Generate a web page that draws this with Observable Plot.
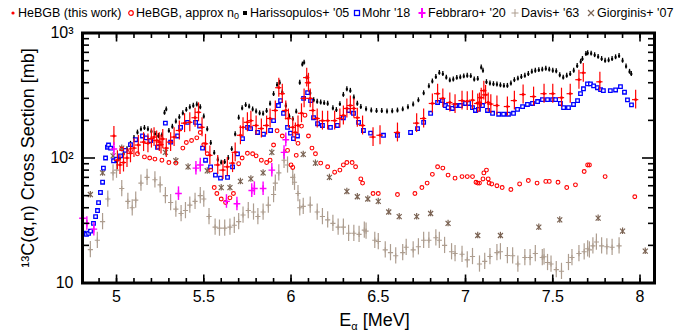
<!DOCTYPE html>
<html><head><meta charset="utf-8">
<script src="https://cdn.jsdelivr.net/npm/d3@7"></script>
<script src="https://cdn.jsdelivr.net/npm/@observablehq/plot@0.6"></script>
<style>
body{margin:0;background:#fff;font-family:"Liberation Sans",Arial,sans-serif;}
#legend{height:24px;position:relative;font-size:12.5px;color:#000;}
.sym{position:absolute;top:7px;line-height:0;}
.sym svg{display:block;}
.lab{position:absolute;top:5px;line-height:16px;white-space:nowrap;}
#chart svg{display:block;}
</style></head><body>
<div id="legend"></div>
<div id="chart"></div>
<script>
// ---------- data ----------
// HeBGB (this work)
const hebgbE = [4.985,5.005,5.02,5.04,5.06,5.08,5.10,5.125,5.155,5.18,5.20,5.215,5.23,5.245,5.255,5.265,5.285,5.31,5.33,5.36,5.39,5.42,5.45,5.47,5.49,5.51,5.535,5.58,5.61,5.635,5.665,5.68,5.71,5.725,5.75,5.77,5.80,5.83,5.86,5.88,5.91,5.93,5.95,5.97,5.985,6.01,6.025,6.04,6.06,6.075,6.09,6.10,6.11,6.125,6.15,6.18,6.21,6.25,6.28,6.30,6.32,6.34,6.36,6.38,6.41,6.47,6.51,6.61,6.72,6.76,6.81,6.84,6.87,6.91,6.94,6.98,7.01,7.04,7.07,7.08,7.09,7.105,7.115,7.13,7.145,7.18,7.24,7.28,7.33,7.39,7.45,7.50,7.55,7.60,7.65,7.675,7.77,7.975];
const hebgbV = [150,96,88,92,100,109,120,127,134,131,143,147,138,134,128,142,120,134,147,166,190,193,210,232,176,130,105,88,80,85,91,111,152,176,193,199,182,172,182,207,240,365,327,240,207,176,160,182,228,300,440,400,300,240,207,199,199,199,207,219,249,263,249,210,182,147,152,160,190,207,273,327,300,278,270,288,285,290,273,278,304,346,320,278,270,263,258,288,322,310,327,327,304,327,423,480,407,293];

// HeBGB, approx n0
const n0E = [5.03,5.08,5.12,5.16,5.19,5.22,5.26,5.30,5.34,5.38,5.40,5.43,5.46,5.48,5.50,5.52,5.54,5.56,5.575,5.60,5.625,5.65,5.67,5.70,5.72,5.75,5.78,5.80,5.83,5.86,5.88,5.90,5.92,5.95,5.98,6.00,6.01,6.03,6.04,6.06,6.08,6.10,6.12,6.14,6.17,6.21,6.25,6.28,6.30,6.32,6.35,6.37,6.40,6.41,6.47,6.50,6.61,6.71,6.75,6.78,6.81,6.84,6.87,6.90,6.94,6.98,7.01,7.04,7.06,7.07,7.08,7.10,7.105,7.12,7.13,7.135,7.15,7.18,7.21,7.26,7.31,7.36,7.41,7.46,7.48,7.53,7.58,7.63,7.68,7.70,7.71,7.80,7.97];
const n0V = [118,115,108,102,100,98,96,92,91,120,133,138,145,160,128,108,80,58,52,47,44,48,52,90,100,109,108,104,96,92,96,127,165,150,115,88,84,105,131,180,220,150,120,108,91,85,77,80,88,92,92,85,68,63,52,52,51,52,58,63,74,85,83,73,69,71,71,71,64,63,63,68,76,80,68,63,62,60,58,56,62,66,63,65,65,64,58,61,78,88,88,71,49];

// Harissopulos+ '05
const hariE = [5.00,5.02,5.04,5.06,5.08,5.10,5.12,5.14,5.16,5.18,5.20,5.22,5.24,5.26,5.275,5.285,5.30,5.32,5.34,5.36,5.38,5.40,5.42,5.44,5.46,5.48,5.50,5.52,5.54,5.56,5.58,5.60,5.62,5.64,5.66,5.68,5.70,5.72,5.74,5.76,5.78,5.80,5.82,5.84,5.86,5.88,5.90,5.92,5.935,5.95,5.97,5.99,6.01,6.03,6.05,6.065,6.075,6.09,6.11,6.13,6.15,6.17,6.19,6.21,6.24,6.26,6.28,6.30,6.32,6.34,6.36,6.38,6.40,6.43,6.46,6.49,6.52,6.55,6.58,6.61,6.64,6.67,6.70,6.73,6.76,6.79,6.81,6.83,6.85,6.87,6.89,6.91,6.93,6.95,6.97,6.99,7.01,7.03,7.05,7.07,7.09,7.10,7.12,7.14,7.16,7.18,7.20,7.22,7.24,7.26,7.28,7.30,7.32,7.34,7.36,7.38,7.40,7.42,7.44,7.46,7.48,7.50,7.52,7.54,7.56,7.58,7.60,7.62,7.64,7.66,7.67,7.69,7.70,7.72,7.74,7.76,7.78,7.80,7.82,7.84,7.86,7.88,7.90,7.92,7.94,7.95];
const hariV = [95,100,108,118,130,145,160,170,174,170,163,156,150,152,230,245,165,178,196,212,228,243,255,262,268,255,215,170,132,110,97,92,93,100,118,155,210,250,265,258,245,236,228,226,238,272,325,385,400,335,262,215,205,235,400,560,580,440,330,290,282,278,275,272,250,242,270,320,355,345,305,272,256,246,240,238,238,236,237,240,245,255,268,290,330,375,410,445,480,470,440,418,425,438,442,450,455,452,425,430,530,500,405,395,390,388,382,378,378,395,420,432,445,455,470,490,500,505,510,518,510,500,495,460,440,455,470,500,545,590,620,680,690,685,665,645,620,600,605,620,640,656,600,540,490,470];

// Mohr '18
const mohrE = [4.811,4.828,4.84,4.851,4.868,4.88,4.891,4.897,4.908,4.92,4.925,4.937,4.948,4.954,4.966,4.983,5.00,5.023,5.05,5.08,5.11,5.149,5.17,5.195,5.235,5.28,5.31,5.35,5.367,5.407,5.453,5.476,5.493,5.51,5.539,5.567,5.596,5.636,5.665,5.693,5.722,5.751,5.768,5.808,5.842,5.883,5.90,5.928,5.94,5.957,5.98,5.997,6.014,6.037,6.072,6.095,6.112,6.129,6.152,6.18,6.226,6.266,6.30,6.33,6.358,6.387,6.415,6.456,6.53,6.61,6.685,6.725,6.76,6.80,6.84,6.868,6.885,6.90,6.925,6.943,6.971,7.00,7.017,7.04,7.057,7.074,7.097,7.126,7.155,7.19,7.218,7.246,7.275,7.298,7.327,7.355,7.384,7.413,7.441,7.47,7.499,7.516,7.544,7.562,7.59,7.619,7.642,7.659,7.676,7.699,7.716,7.734,7.756,7.774,7.79,7.83,7.86,7.888,7.911,7.928,7.951];
const mohrV = [25,24.5,25,26,30,34,38,44,53,64,83,100,122,127,120,95,98,104,115,128,140,150,145,138,122,190,134,150,176,193,193,180,120,96,85,73,69,70,85,108,143,176,172,160,155,166,199,263,288,228,176,158,143,150,300,333,288,210,188,182,176,182,210,240,228,193,166,158,152,152,160,172,193,228,278,288,263,253,249,263,263,273,273,253,240,245,263,240,228,224,224,224,228,245,258,268,273,283,293,293,293,293,273,253,253,268,288,327,358,392,392,378,365,352,346,346,350,372,336,292,266];

// Febbraro+ '20
const febE = [4.805,4.83,4.87,4.985,5.355,5.455,5.48,5.63,5.69,5.775,5.79,5.84,5.89,5.96,5.97];
const febV = [33,30,27,118,52,83,88,45,43,55,57,57,80,111,140];

// Davis+ '63
const davisE = [4.85,4.89,4.92,4.95,4.98,5.00,5.03,5.065,5.09,5.11,5.14,5.175,5.22,5.25,5.28,5.31,5.34,5.37,5.395,5.42,5.45,5.48,5.50,5.53,5.565,5.59,5.62,5.65,5.675,5.70,5.725,5.755,5.785,5.81,5.84,5.87,5.90,5.91,5.93,5.96,5.98,6.01,6.02,6.04,6.05,6.07,6.11,6.15,6.18,6.21,6.24,6.27,6.30,6.33,6.36,6.39,6.42,6.43,6.48,6.50,6.54,6.57,6.60,6.64,6.66,6.70,6.73,6.76,6.79,6.83,6.85,6.88,6.92,6.94,6.98,7.01,7.04,7.08,7.11,7.14,7.18,7.20,7.24,7.27,7.30,7.34,7.37,7.40,7.44,7.45,7.47,7.49,7.52,7.55,7.59,7.61,7.65,7.68,7.70,7.71,7.73,7.75,7.78,7.81,7.84,7.88];
const davisV = [18.5,22,31,47,76,80,57,45,40,46,63,70,67,61,50,44,39,36,38,42,45,50,47,34,28,27.5,27.5,28,29,31,35,38,37,34,37,42,51,63,76,96,88,70,64,52,40,41,42,37,34,32,30,28,28,25,25,24.5,26.5,26,22,21.5,18.4,17.5,16.5,17.5,19.3,18.4,19.5,22,22,23,22,20,17.8,17.2,17,15.3,16.3,14.2,14.9,16.3,17.5,17.8,16.6,16.5,14.2,16,16,17.2,16,16.2,14.6,14.2,12.8,12.4,14.6,16,17.2,17.8,18.8,18.4,19.8,21.3,19.8,19.5,19.3,19.8];

// Giorginis+ '07
const giorE = [4.85,4.92,4.98,5.03,5.28,5.34,5.41,5.52,5.60,5.65,5.71,5.77,5.84,5.89,6.07,6.14,6.22,6.32,6.38,6.44,6.50,6.56,6.62,6.72,6.80,6.90,7.07,7.20,7.42,7.54,7.76,7.90,8.03];
const giorV = [51,76,104,120,111,95,85,79,58,58,65,68,76,111,107,91,70,54,49,47,45,37,34,34,36,30,24,24,28,32,33,26,18];

// axis ticks
const xMajor = [5,5.5,6,6.5,7,7.5,8];
const xMinor = d3.range(49,81).map(i => i/10);
const yMajor = [10,100,1000];
const yMinor = [20,30,40,50,60,70,80,90,200,300,400,500,600,700,800,900];
const yTickText = {10:"10", 100:"10²", 1000:"10³"};

// legend entries
const legendNames = ["HeBGB (this work)","HeBGB, approx n<span style=\"font-size:9px;vertical-align:-2px\">0</span>","Harissopulos+ '05","Mohr '18","Febbraro+ '20","Davis+ '63","Giorginis+ '07"];
const legendSymX = [9,127,241,353,418,511,587];
const legendTextX = [18,136,250,362,428,521,597];

// ---------- colours ----------
const RED="#ff0000", BLUE="#0000ff", MAG="#ff00ff", TAN="#ad9d8f", BROWN="#7a6252";

const zipT = (E,V) => E.map((e,i)=>({E:e, v:V[i]}));
const hebgb = zipT(hebgbE,hebgbV), n0 = zipT(n0E,n0V), hari = zipT(hariE,hariV),
      mohr = zipT(mohrE,mohrV), feb = zipT(febE,febV), davis = zipT(davisE,davisV), gior = zipT(giorE,giorV);

// legend
const legendSyms = [
 '<svg width="8" height="12"><circle cx="4" cy="6" r="1.6" fill="'+RED+'"/></svg>',
 '<svg width="8" height="12"><circle cx="4" cy="6" r="2.3" fill="none" stroke="'+RED+'" stroke-width="1.2"/></svg>',
 '<svg width="8" height="12"><rect x="2" y="4" width="4" height="4" fill="#000"/></svg>',
 '<svg width="8" height="12"><rect x="1.5" y="3.5" width="5" height="5" fill="none" stroke="'+BLUE+'" stroke-width="1.3"/></svg>',
 '<svg width="8" height="12"><path d="M4,1V11M0.5,6H7.5" stroke="'+MAG+'" stroke-width="2"/></svg>',
 '<svg width="8" height="12"><path d="M4,2V10M0.5,6H7.5" stroke="'+TAN+'" stroke-width="1"/></svg>',
 '<svg width="8" height="12"><path d="M1,3L7,9M7,3L1,9" stroke="'+BROWN+'" stroke-width="1.2"/></svg>'
];
const leg = document.getElementById("legend");
legendNames.forEach((n,i)=>{
  const s=document.createElement("span"); s.className="sym"; s.style.left=legendSymX[i]+"px"; s.innerHTML=legendSyms[i]; leg.appendChild(s);
  const t=document.createElement("span"); t.className="lab"; t.style.left=legendTextX[i]+"px"; t.innerHTML=n; leg.appendChild(t);
});

const tickStyle = {fill:"none", label:null, stroke:"black", strokeWidth:1.6};
const chart = Plot.plot({
  width: 686, height: 312,
  marginLeft: 82, marginRight: 32, marginTop: 8.5, marginBottom: 53.5,
  x: {domain: [4.805, 8.083]},
  y: {type: "log", domain: [10, 1000]},
  style: {fontFamily: "'Liberation Sans', Arial, sans-serif", fontSize: "16px", background: "white", color: "black"},
  marks: [
    // Davis
    Plot.ruleX(davis, {x:"E", y1:d=>d.v*0.86, y2:d=>d.v*1.16, stroke:TAN, strokeWidth:1.2}),
    Plot.dot(davis, {x:"E", y:"v", symbol:"plus", r:1.8, stroke:TAN, strokeWidth:1.1}),
    // Giorginis
    Plot.ruleX(gior, {x:"E", y1:d=>d.v*0.94, y2:d=>d.v*1.06, stroke:BROWN, strokeWidth:1.2}),
    Plot.dot(gior, {x:"E", y:"v", symbol:"times", r:2.4, stroke:BROWN, strokeWidth:1.2}),
    // Harissopulos
    Plot.ruleX(hari, {x:"E", y1:d=>d.v*0.955, y2:d=>d.v*1.045, stroke:"black", strokeWidth:1.3}),
    Plot.dot(hari, {x:"E", y:"v", symbol:"square", r:1.2, fill:"black"}),
    // Mohr
    Plot.dot(mohr, {x:"E", y:"v", symbol:"square", r:2.0, stroke:BLUE, fill:"white", strokeWidth:1.3}),
    // HeBGB approx n0
    Plot.dot(n0, {x:"E", y:"v", r:1.9, stroke:RED, fill:"none", strokeWidth:1.1}),
    // HeBGB
    Plot.ruleX(hebgb, {x:"E", y1:d=>d.v*0.84, y2:d=>d.v*1.19, stroke:RED, strokeWidth:1.2}),
    Plot.ruleY(hebgb, {y:"v", x1:d=>d.E-0.018, x2:d=>d.E+0.018, stroke:RED, strokeWidth:1.2}),
    Plot.dot(hebgb, {x:"E", y:"v", r:1.4, fill:RED}),
    // Febbraro
    Plot.ruleX(feb, {x:"E", y1:d=>d.v*0.88, y2:d=>d.v*1.13, stroke:MAG, strokeWidth:1.4}),
    Plot.dot(feb, {x:"E", y:"v", symbol:"plus", r:2.3, stroke:MAG, strokeWidth:1.4}),
    // ticks (inward)
    Plot.axisX(xMinor, {anchor:"bottom", tickSize:-4.5, ...tickStyle}),
    Plot.axisX(xMajor, {anchor:"bottom", tickSize:-8, ...tickStyle}),
    Plot.axisX(xMinor, {anchor:"top", tickSize:-4.5, ...tickStyle}),
    Plot.axisX(xMajor, {anchor:"top", tickSize:-8, ...tickStyle}),
    Plot.axisY(yMinor, {anchor:"left", tickSize:-7, ...tickStyle}),
    Plot.axisY(yMajor, {anchor:"left", tickSize:-13, ...tickStyle}),
    Plot.axisY(yMinor, {anchor:"right", tickSize:-7, ...tickStyle}),
    Plot.axisY(yMajor, {anchor:"right", tickSize:-13, ...tickStyle}),
    // tick labels
    Plot.axisX(xMajor, {anchor:"bottom", tickSize:0, tickPadding:8, label:null, fontSize:16, tickFormat:d=>String(d)}),
    Plot.axisY(yMajor, {anchor:"left", tickSize:0, tickPadding:9, label:null, fontSize:16, tickFormat:d=>yTickText[d]}),
    // frame
    Plot.frame({stroke:"black", strokeWidth:3}),
    // axis titles
    Plot.text(["Eα [MeV]"], {frameAnchor:"bottom", textAnchor:"middle", lineAnchor:"middle", dx:6, dy:37.5, fontSize:18}),
    Plot.text(["¹³C(α,n) Cross Section [mb]"], {frameAnchor:"left", textAnchor:"middle", lineAnchor:"middle", rotate:-90, dx:-54, fontSize:18})
  ]
});
document.getElementById("chart").appendChild(chart);

// subscript alpha in x title
d3.select(chart).selectAll("text").filter(function(){return this.textContent==="Eα [MeV]";}).each(function(){
  const t=d3.select(this); t.text(null);
  t.append("tspan").text("E");
  t.append("tspan").attr("font-size","11px").attr("dy","4").text("α");
  t.append("tspan").attr("dy","-4").text(" [MeV]");
});
</script></body></html>
